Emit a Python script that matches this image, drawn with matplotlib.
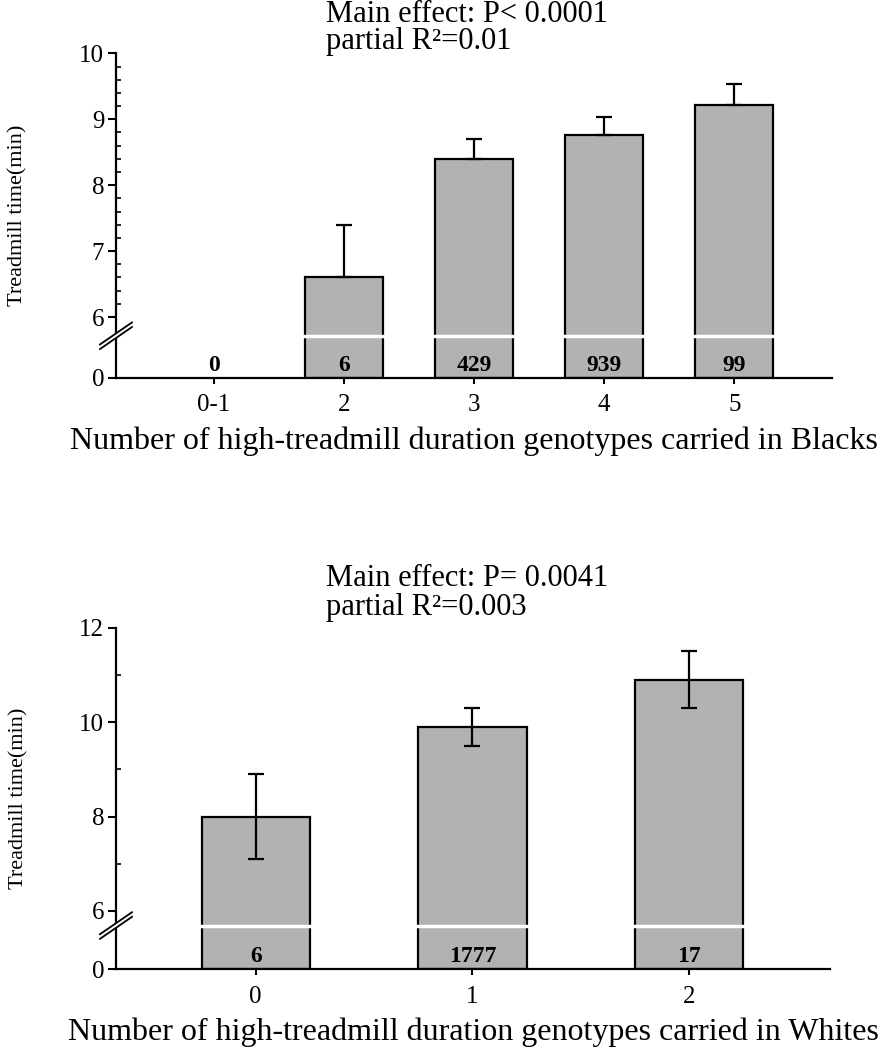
import numpy as np
import matplotlib
matplotlib.use('Agg')
import matplotlib.pyplot as plt

plt.rcParams['font.family'] = ['Liberation Serif', 'DejaVu Serif']

# Blacks panel
black_groups = ['0-1', '2', '3', '4', '5']
black_n = [0, 6, 429, 939, 99]
black_mean = [np.nan, 6.6, 8.4, 8.76, 9.22]
black_err = [np.nan, 0.8, 0.3, 0.28, 0.31]

# Whites panel
white_groups = ['0', '1', '2']
white_n = [6, 1777, 17]
white_mean = [8.0, 9.9, 10.9]
white_err = [0.9, 0.4, 0.6]

BAR_COLOR = '#b2b2b2'


def broken_scale(gap):
    # 0..6 squeezed into `gap` units, linear above 6
    def fwd(y):
        y = np.asarray(y, dtype=float)
        return np.where(y >= 6, y - 6 + gap, y * gap / 6)

    def inv(v):
        v = np.asarray(v, dtype=float)
        return np.where(v >= gap, v + 6 - gap, v * 6 / gap)
    return fwd, inv


def panel(ax, groups, n, mean, err, gap, brk, ylim, major, minor, width, xlim,
          upper_only, xlabel):
    x = np.arange(len(groups))
    mean = np.array(mean)
    err = np.array(err)
    ok = ~np.isnan(mean)

    ax.set_yscale('function', functions=broken_scale(gap))
    ax.set_ylim(ylim)
    ax.set_xlim(xlim)

    ax.bar(x[ok], mean[ok], width, color=BAR_COLOR, edgecolor='black',
           linewidth=1.6, zorder=1)
    if upper_only:
        yerr = [np.zeros(ok.sum()), err[ok]]
    else:
        yerr = err[ok]
    ax.errorbar(x[ok], mean[ok], yerr=yerr, fmt='none', ecolor='black',
                elinewidth=1.6, capsize=6, capthick=1.6, zorder=2)
    ax.axhline(brk, color='white', lw=2.5, zorder=2.2)

    for xi, ni in zip(x, n):
        ax.annotate(str(ni), (xi, 0), xytext=(0, 1.5), textcoords='offset points',
                    ha='center', va='bottom', fontsize=17, fontweight='bold', zorder=4)

    ax.set_yticks(major)
    ax.set_yticklabels([str(t) for t in major])
    ax.set_yticks(minor, minor=True)
    ax.set_xticks(x)
    ax.set_xticklabels(groups)
    ax.tick_params(axis='y', which='major', direction='out', length=5.5, width=1.5,
                   labelsize=18, pad=3)
    ax.tick_params(axis='y', which='minor', direction='in', length=3.5, width=1.2)
    ax.tick_params(axis='x', direction='out', length=4, width=1.5, labelsize=18, pad=8)
    for s in ['top', 'right']:
        ax.spines[s].set_visible(False)
    for s in ['left', 'bottom']:
        ax.spines[s].set_linewidth(1.6)

    ax.set_xlabel(xlabel, fontsize=23, labelpad=7)

    # break marks on the y axis
    fig = ax.figure
    bb = ax.get_window_extent(fig.canvas.get_renderer())
    yb = ax.transAxes.inverted().transform(ax.transData.transform((0, brk)))[1]
    dx, dy, sep = 16 / bb.width, 11 / bb.height, 2.3 / bb.height
    ax.plot([-dx, dx], [yb - dy, yb + dy], color='white', lw=3.5,
            transform=ax.transAxes, clip_on=False, zorder=5)
    for s in (-sep, sep):
        ax.plot([-dx, dx], [yb - dy + s, yb + dy + s], color='black', lw=1.3,
                transform=ax.transAxes, clip_on=False, zorder=6)


fig = plt.figure(figsize=(8.84, 10.5), dpi=100)
ax1 = fig.add_axes([0.1312, 0.6403, 0.81, 0.3089])
ax2 = fig.add_axes([0.1312, 0.0769, 0.8077, 0.3253])

black_minor = [round(v, 1) for v in np.arange(6.2, 10, 0.2) if abs(v - round(v)) > 0.05]
panel(ax1, black_groups, black_n, black_mean, black_err, gap=0.92, brk=4.15,
      ylim=(0, 10), major=[0, 6, 7, 8, 9, 10], minor=black_minor, width=0.6,
      xlim=(-0.75, 4.75), upper_only=True,
      xlabel='Number of high-treadmill duration genotypes carried in Blacks')
panel(ax2, white_groups, white_n, white_mean, white_err, gap=1.235, brk=4.5,
      ylim=(0, 12), major=[0, 6, 8, 10, 12], minor=[7, 9, 11], width=0.5,
      xlim=(-0.645, 2.65), upper_only=False,
      xlabel='Number of high-treadmill duration genotypes carried in Whites')

ax1.set_ylabel('Treadmill time(min)', fontsize=16)
ax2.set_ylabel('Treadmill time(min)', fontsize=16)
ax1.yaxis.set_label_coords(-0.123, 0.5)
ax2.yaxis.set_label_coords(-0.123, 0.5)

fig.text(0.369, 0.986, 'Main effect: P< 0.0001', fontsize=22, va='center')
fig.text(0.369, 0.960, 'partial R²=0.01', fontsize=22, va='center')
fig.text(0.369, 0.4495, 'Main effect: P= 0.0041', fontsize=22, va='center')
fig.text(0.369, 0.421, 'partial R²=0.003', fontsize=22, va='center')

fig.savefig('out.png', dpi=100)
